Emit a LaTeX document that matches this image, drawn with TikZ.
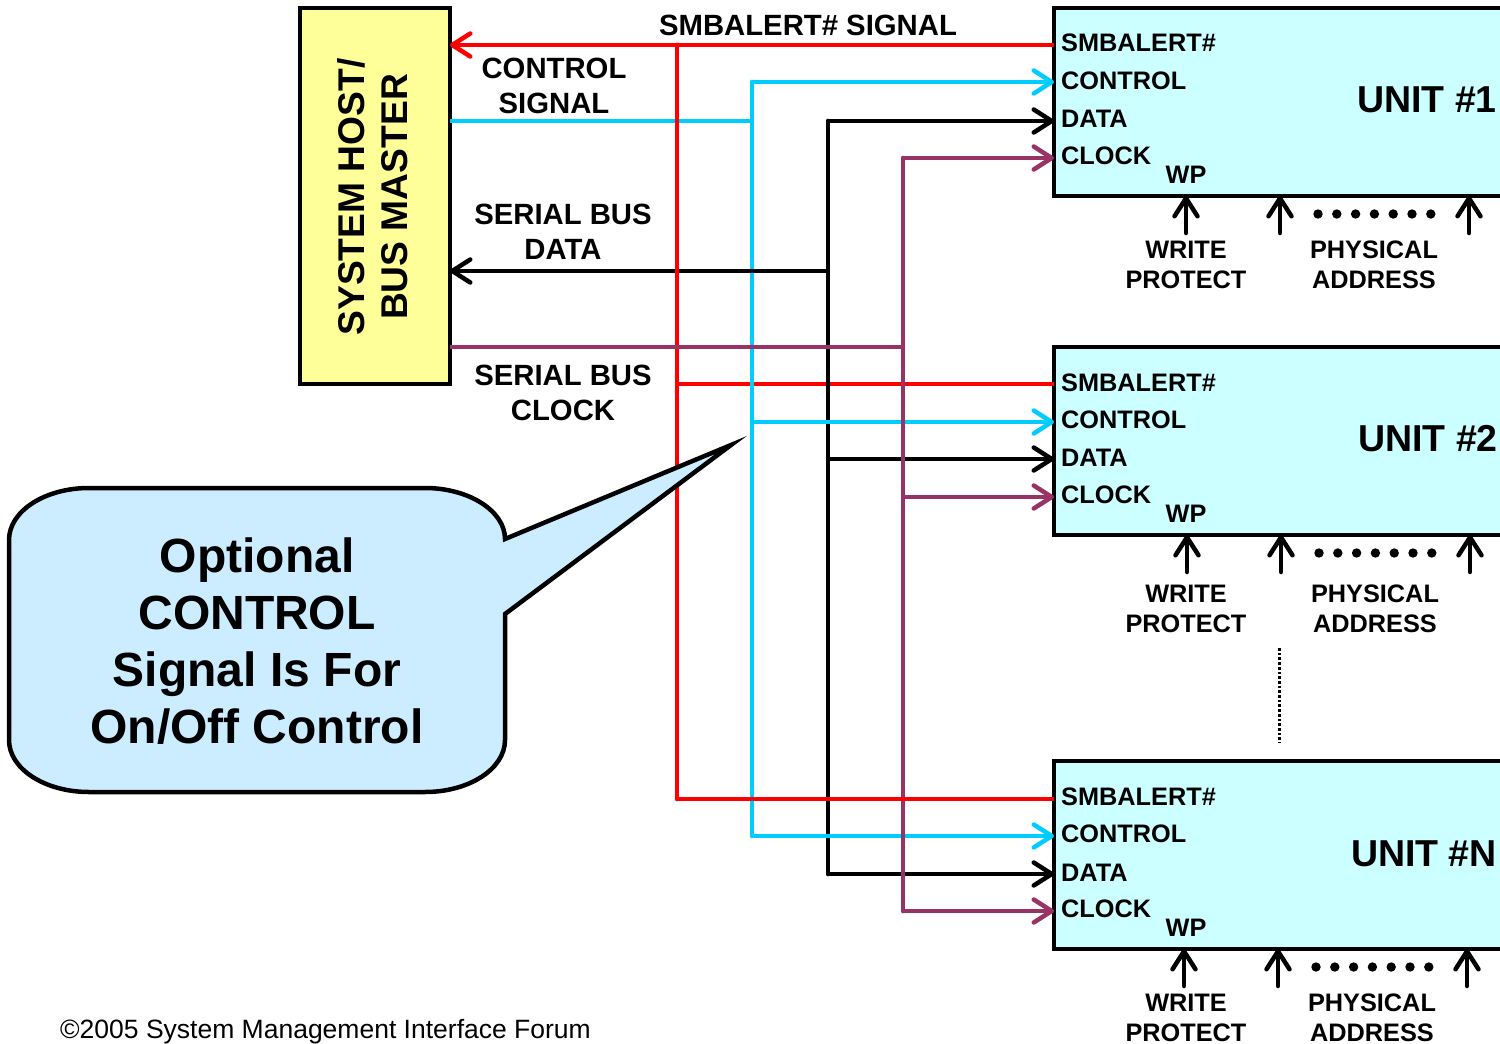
\documentclass[tikz,border=0pt]{standalone}
\usepackage{fontspec}
\setmainfont{Liberation Sans}
\usetikzlibrary{arrows.meta}
\definecolor{hostfill}{RGB}{255,255,153}
\definecolor{unitfill}{RGB}{204,255,255}
\definecolor{notefill}{RGB}{204,236,255}
\definecolor{ctrlcol}{RGB}{0,204,255}
\definecolor{clkcol}{RGB}{153,51,102}
\newcommand{\AFsize}[1]{\fontsize{#1}{#1}\selectfont\bfseries}
\tikzset{
  barb/.style={-{Straight Barb[length=18pt,width=23pt,line width=4.5pt,round]}},
  box/.style={draw,line width=4.5pt,inner sep=0pt,outer sep=0pt,anchor=north west},
  pin/.style={anchor=west,inner sep=0pt,font=\AFsize{25.3}},
  lab/.style={align=center,inner sep=0pt,font=\AFsize{25.3}},
  sig/.style={align=center,inner sep=0pt,font=\AFsize{29.3}},
  alert/.style={line width=4.7pt,red},
  ctrl/.style={line width=4.7pt,ctrlcol},
  dat/.style={line width=4.7pt,black},
  clk/.style={line width=4.7pt,clkcol},
  pinup/.style={barb,line width=4.5pt,line cap=round}
}
\begin{document}
\begin{tikzpicture}[x=1pt,y=-1pt]
        \clip (0,0) rectangle (1500,1044);
        \node[box,fill=hostfill,minimum width=150pt,minimum height=376pt] (Host) at (300,8) {};
        \node[rotate=90,align=center,inner sep=0pt,font=\AFsize{37.2}] (HostText) at (372.5,197) {SYSTEM HOST/\\[6pt]BUS MASTER};
        % units
        \node[box,fill=unitfill,minimum width=480pt,minimum height=188pt] (Un1) at (1054,8) {};
        \node[box,fill=unitfill,minimum width=480pt,minimum height=188pt] (Un2) at (1054,347) {};
        \node[box,fill=unitfill,minimum width=480pt,minimum height=188pt] (UnN) at (1054,761) {};
        \node[inner sep=0pt,font=\AFsize{37.5}] (Name1) at (1427,99.5) {UNIT \#1};
        \node[inner sep=0pt,font=\AFsize{37.5}] (Name2) at (1428,438.5) {UNIT \#2};
        \node[inner sep=0pt,font=\AFsize{37.5}] (NameN) at (1424,853.5) {UNIT \#N};
        \node[pin] (Alert1) at (1061,43) {SMBALERT\#};
        \node[pin] (Ctrl1) at (1061,81) {CONTROL};
        \node[pin] (Data1) at (1061,119) {DATA};
        \node[pin] (Clk1) at (1061,156) {CLOCK};
        \node[lab] (Wp1) at (1186,175) {WP};
        \node[pin] (Alert2) at (1061,383) {SMBALERT\#};
        \node[pin] (Ctrl2) at (1061,420) {CONTROL};
        \node[pin] (Data2) at (1061,458) {DATA};
        \node[pin] (Clk2) at (1061,495) {CLOCK};
        \node[lab] (Wp2) at (1186,514) {WP};
        \node[pin] (AlertN) at (1061,797) {SMBALERT\#};
        \node[pin] (CtrlN) at (1061,834) {CONTROL};
        \node[pin] (DataN) at (1061,873) {DATA};
        \node[pin] (ClkN) at (1061,909) {CLOCK};
        \node[lab] (WpN) at (1186,928) {WP};
        % signal names
        \node[sig] (AlertSig) at (808,25) {SMBALERT\# SIGNAL};
        \node[sig] (CtrlSig) at (554,86) {CONTROL\\[6pt]SIGNAL};
        \node[sig] (DataSig) at (563,232) {SERIAL BUS\\[6pt]DATA};
        \node[sig] (ClkSig) at (563,393) {SERIAL BUS\\[6pt]CLOCK};
        % pin captions
        \node[lab] (Write1) at (1186,265) {WRITE\\[4.7pt]PROTECT};
        \node[lab] (Phys1) at (1374,265) {PHYSICAL\\[4.7pt]ADDRESS};
        \node[lab] (Write2) at (1186,609) {WRITE\\[4.7pt]PROTECT};
        \node[lab] (Phys2) at (1375,609) {PHYSICAL\\[4.7pt]ADDRESS};
        \node[lab] (WriteN) at (1186,1017.5) {WRITE\\[4.7pt]PROTECT};
        \node[lab] (PhysN) at (1372,1017.5) {PHYSICAL\\[4.7pt]ADDRESS};
        % trunks and branches
        \coordinate (RedTop) at (677,45);
        \coordinate (RedMid) at (677,384);
        \coordinate (RedEnd) at (677,799);
        \coordinate (CyanHost) at (752,121);
        \coordinate (CyanTop) at (752,82);
        \coordinate (CyanMid) at (752,422);
        \coordinate (CyanEnd) at (752,836);
        \coordinate (BlackHost) at (828,271);
        \coordinate (BlackTop) at (828,121);
        \coordinate (BlackMid) at (828,459);
        \coordinate (BlackEnd) at (828,874);
        \coordinate (ClkHost) at (903,347);
        \coordinate (ClkTop) at (903,158);
        \coordinate (ClkMid) at (903,497);
        \coordinate (ClkEnd) at (903,911);
        \draw[alert] (RedMid) -- (Un2.west |- RedMid);
        \draw[dat,line cap=round] (BlackTop) -- (BlackEnd);
        \draw[dat,barb] (BlackTop) -- (Un1.west |- BlackTop);
        \draw[dat,barb] (BlackMid) -- (Un2.west |- BlackMid);
        \draw[dat,barb] (BlackEnd) -- (UnN.west |- BlackEnd);
        \draw[ctrl] (Host.east |- CyanHost) -- (CyanHost);
        \draw[ctrl,line cap=round] (CyanTop) -- (CyanEnd);
        \draw[ctrl,barb] (CyanTop) -- (Un1.west |- CyanTop);
        \draw[ctrl,barb] (CyanMid) -- (Un2.west |- CyanMid);
        \draw[ctrl,barb] (CyanEnd) -- (UnN.west |- CyanEnd);
        \draw[dat,barb] (BlackHost) -- (Host.east |- BlackHost);
        \draw[clk,line cap=round] (ClkTop) -- (ClkEnd);
        \draw[clk,barb] (ClkTop) -- (Un1.west |- ClkTop);
        \draw[clk,barb] (ClkMid) -- (Un2.west |- ClkMid);
        \draw[clk,barb] (ClkEnd) -- (UnN.west |- ClkEnd);
        \draw[alert,barb] (Un1.west |- RedTop) -- (Host.east |- RedTop);
        \draw[alert,line cap=round] (RedTop) -- (RedEnd);
        \draw[alert] (RedEnd) -- (UnN.west |- RedEnd);
        \draw[clk] (Host.east |- ClkHost) -- (ClkHost);
        % physical pins
        \coordinate (Up1a) at (1186,233);
        \coordinate (Up1b) at (1280,233);
        \coordinate (Up1c) at (1469,233);
        \coordinate (Up2a) at (1187,572);
        \coordinate (Up2b) at (1281,572);
        \coordinate (Up2c) at (1470,572);
        \coordinate (UpNa) at (1184,986);
        \coordinate (UpNb) at (1278,986);
        \coordinate (UpNc) at (1467,986);
        \draw[pinup] (Up1a) -- (Un1.south -| Up1a);
        \draw[pinup] (Up1b) -- (Un1.south -| Up1b);
        \draw[pinup] (Up1c) -- (Un1.south -| Up1c);
        \draw[pinup] (Up2a) -- (Un2.south -| Up2a);
        \draw[pinup] (Up2b) -- (Un2.south -| Up2b);
        \draw[pinup] (Up2c) -- (Un2.south -| Up2c);
        \draw[pinup] (UpNa) -- (UnN.south -| UpNa);
        \draw[pinup] (UpNb) -- (UnN.south -| UpNb);
        \draw[pinup] (UpNc) -- (UnN.south -| UpNc);
        \foreach \i in {0,...,6} {
          \fill (1318+18.8*\i,214) circle (4.7pt);
          \fill (1319+18.8*\i,553) circle (4.7pt);
          \fill (1316+18.8*\i,967) circle (4.7pt);
        }
        \coordinate (DotTop) at (1279.5,648);
        \coordinate (DotEnd) at (1279.5,743);
        \draw[line width=2.5pt,dash pattern=on 2.7pt off 2pt] (DotTop) -- (DotEnd);
        % note
        \draw[line width=4.5pt,fill=notefill,line join=miter] (505,539) -- (731,445) -- (505,614) -- (505,740)
          .. controls (505,769) and (469,792) .. (425,792) -- (89,792)
          .. controls (45,792) and (9,769) .. (9,740) -- (9,540)
          .. controls (9,511) and (45,488) .. (89,488) -- (425,488)
          .. controls (469,488) and (505,511) .. (505,539) -- cycle;
        \node[align=center,inner sep=0pt,font=\AFsize{48}] (Note) at (257,641.5)
          {Optional\\[9pt]CONTROL\\[9pt]Signal Is For\\[9pt]On/Off Control};
        \node[inner sep=0pt,anchor=west,font=\fontsize{26.5}{26.5}\selectfont] (Copy) at (60,1032) {©2005 System Management Interface Forum};
      \end{tikzpicture}
\end{document}
